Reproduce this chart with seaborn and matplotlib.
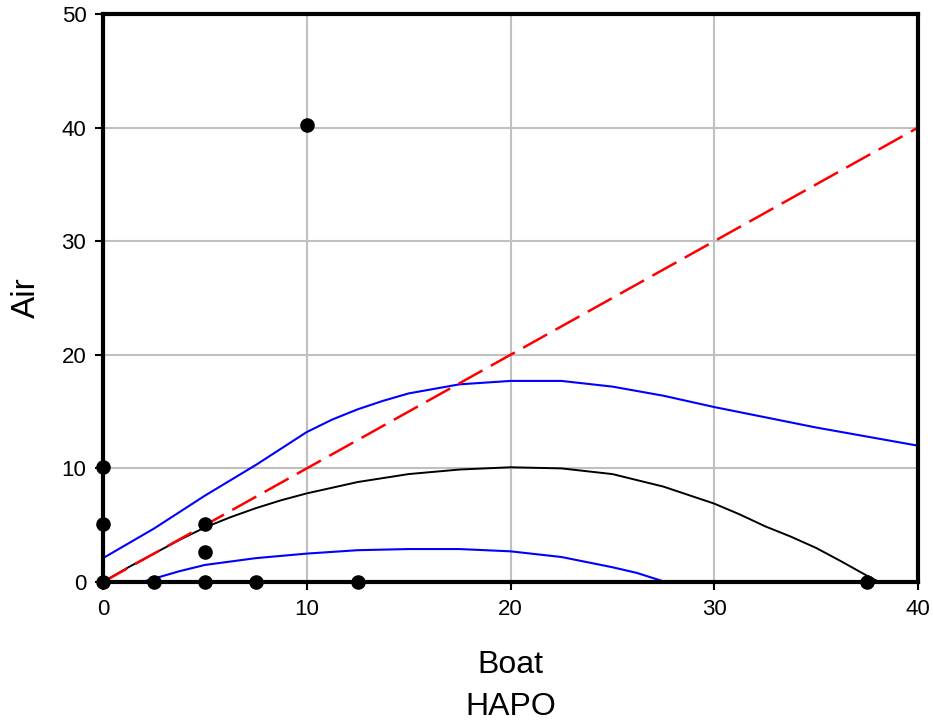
import matplotlib
matplotlib.use("Agg")
import matplotlib.pyplot as plt
import seaborn as sns
import numpy as np
import pandas as pd

# observed points
pts_x = [0, 0, 0, 2.5, 5, 5, 5, 7.5, 10, 12.5, 37.5]
pts_y = [0, 5.1, 10.1, 0, 0, 2.6, 5.1, 0, 40.2, 0, 0]

# fitted curve
fit_x = [0, 1.25, 2.5, 3.75, 5, 6.25, 7.5, 8.75, 10, 12.5, 15, 17.5, 20, 22.5, 25, 27.5, 30, 31.25,
         32.5, 33.75, 35, 36.25, 37.5, 38.1]
fit_y = [0, 1.3, 2.5, 3.7, 4.8, 5.7, 6.5, 7.2, 7.8, 8.8, 9.5, 9.9, 10.1, 10.0, 9.5, 8.4, 6.9, 5.95,
         4.9, 4.0, 3.0, 1.8, 0.55, 0]

# upper band
up_x = [0, 2.5, 5, 7.5, 10, 11.25, 12.5, 13.75, 15, 17.5, 20, 22.5, 25, 27.5, 30, 32.5, 35, 37.5, 40]
up_y = [2.1, 4.7, 7.6, 10.3, 13.2, 14.3, 15.2, 15.95, 16.6, 17.4, 17.7, 17.7, 17.2, 16.4, 15.4,
        14.5, 13.6, 12.8, 12.0]

# lower band
lo_x = [1.9, 2.5, 3.75, 5, 7.5, 10, 12.5, 15, 17.5, 20, 22.5, 25, 26.2, 27.6]
lo_y = [0, 0.3, 0.95, 1.5, 2.1, 2.5, 2.8, 2.9, 2.9, 2.7, 2.2, 1.3, 0.8, 0]

# 1:1 line
one_x = [0, 40]
one_y = [0, 40]

sns.set_style("white")
plt.rcParams['font.family'] = ['Liberation Sans', 'DejaVu Sans']
plt.rcParams['text.color'] = 'black'
plt.rcParams['axes.labelcolor'] = 'black'
plt.rcParams['xtick.color'] = 'black'
plt.rcParams['ytick.color'] = 'black'

fig = plt.figure(figsize=(9.33, 7.27), dpi=100)
ax = fig.add_axes([103/933, 1-582/727, (918-103)/933, (582-14)/727])

sns.lineplot(x=up_x, y=up_y, ax=ax, color="#0000ff", lw=1.5, sort=False)
sns.lineplot(x=lo_x, y=lo_y, ax=ax, color="#0000ff", lw=1.5, sort=False)
sns.lineplot(x=fit_x, y=fit_y, ax=ax, color="black", lw=1.4, sort=False)
sns.lineplot(x=one_x, y=one_y, ax=ax, color="#ff0000", lw=1.8, sort=False)
ax.lines[-1].set_dashes([11, 3.8])
sns.scatterplot(x=pts_x, y=pts_y, ax=ax, color="black", s=110, edgecolor="black",
                linewidth=0, zorder=10, clip_on=False)
for c in ax.collections:
    c.set_clip_on(False)

ax.set_xlim(0, 40)
ax.set_ylim(0, 50)
ax.set_xticks([0, 10, 20, 30, 40])
ax.set_yticks([0, 10, 20, 30, 40, 50])
ax.grid(True, color="#c0c0c0", lw=1.5)
ax.set_axisbelow(True)
for s in ax.spines.values():
    s.set_linewidth(3)
    s.set_color("black")
    s.set_visible(True)
    s.set_zorder(5)
ax.tick_params(axis='both', which='both', direction='out', length=6, width=1.5,
               labelsize=16, colors='black', bottom=True, left=True, pad=6)
ax.set_xlabel("Boat\nHAPO", fontsize=23, labelpad=22, linespacing=1.5, color='black')
ax.set_ylabel("Air", fontsize=24, labelpad=14, color='black')

fig.savefig("out.png", dpi=100)
